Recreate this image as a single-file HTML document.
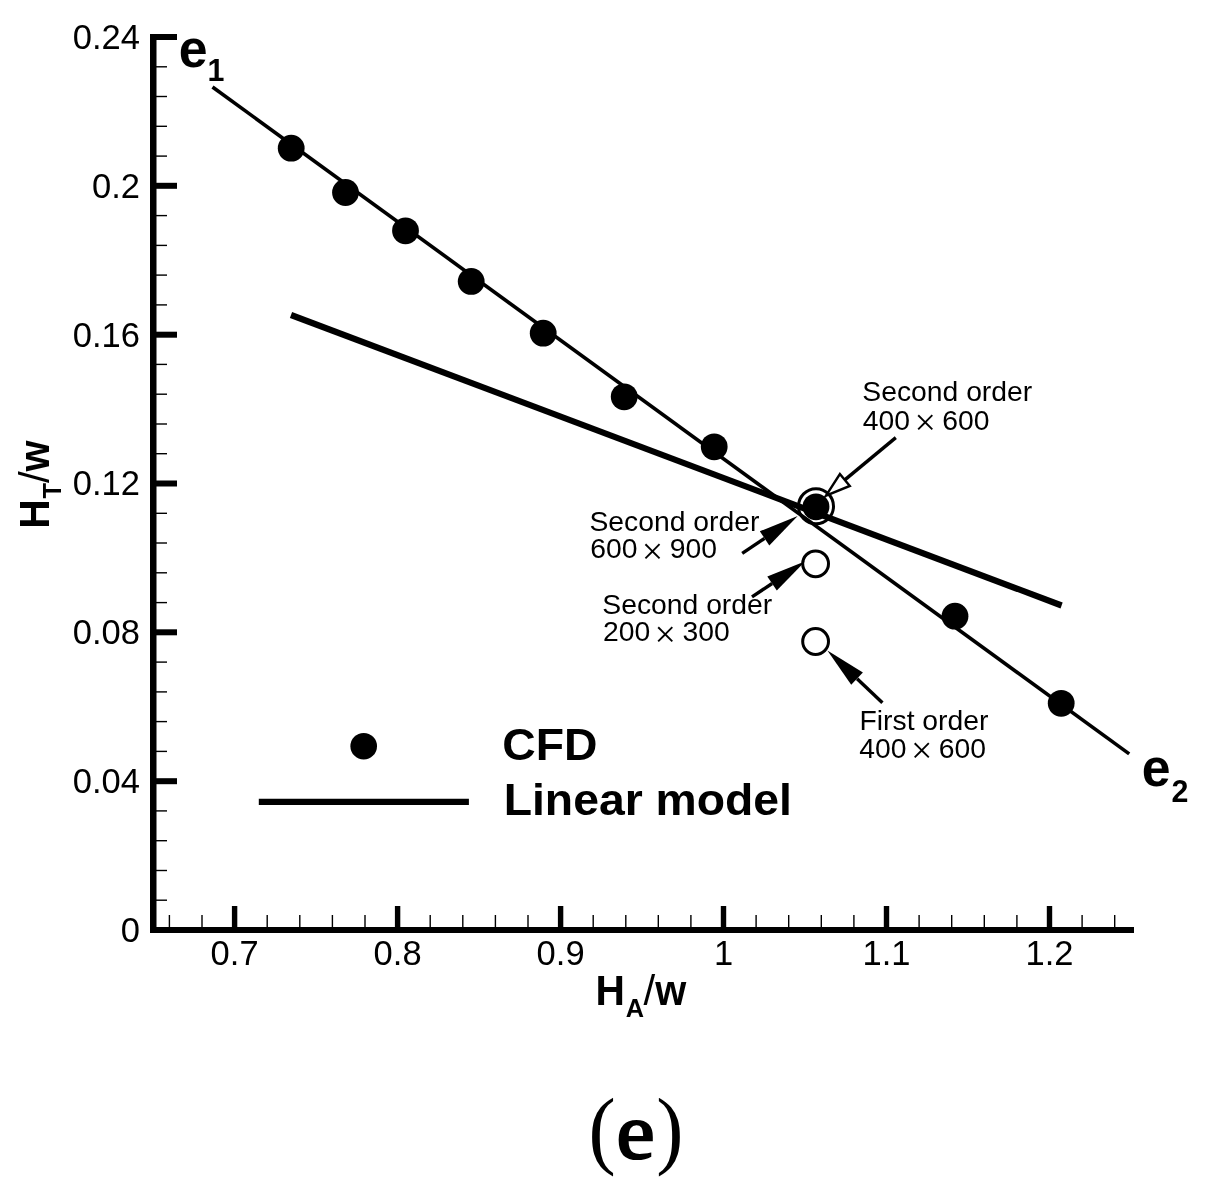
<!DOCTYPE html>
<html lang="en"><head><meta charset="utf-8"><title>Figure (e)</title>
<style>html,body{margin:0;padding:0;background:#fff;}body{width:1214px;height:1201px;overflow:hidden;}svg{display:block;}svg{font-family:"Liberation Sans",Arial,Helvetica,sans-serif;fill:#000;}.b{font-weight:bold;}.s{font-family:"Liberation Serif","Times New Roman",serif;}</style>
</head><body>
<svg width="1214" height="1201" viewBox="0 0 1214 1201">
<rect x="0" y="0" width="1214" height="1201" fill="#fff"/>
<g fill="#000">
<rect x="150" y="34" width="6.5" height="899"/>
<rect x="150" y="927" width="984" height="6"/>
<rect x="153" y="927.0" width="24" height="6"/>
<rect x="153" y="778.2" width="24" height="6"/>
<rect x="153" y="629.3" width="24" height="6"/>
<rect x="153" y="480.5" width="24" height="6"/>
<rect x="153" y="331.7" width="24" height="6"/>
<rect x="153" y="182.8" width="24" height="6"/>
<rect x="153" y="34.0" width="24" height="6"/>
<rect x="153" y="899.5" width="14" height="1.4"/>
<rect x="153" y="869.8" width="14" height="1.4"/>
<rect x="153" y="840.0" width="14" height="1.4"/>
<rect x="153" y="810.2" width="14" height="1.4"/>
<rect x="153" y="750.7" width="14" height="1.4"/>
<rect x="153" y="720.9" width="14" height="1.4"/>
<rect x="153" y="691.2" width="14" height="1.4"/>
<rect x="153" y="661.4" width="14" height="1.4"/>
<rect x="153" y="601.9" width="14" height="1.4"/>
<rect x="153" y="572.1" width="14" height="1.4"/>
<rect x="153" y="542.3" width="14" height="1.4"/>
<rect x="153" y="512.6" width="14" height="1.4"/>
<rect x="153" y="453.0" width="14" height="1.4"/>
<rect x="153" y="423.3" width="14" height="1.4"/>
<rect x="153" y="393.5" width="14" height="1.4"/>
<rect x="153" y="363.7" width="14" height="1.4"/>
<rect x="153" y="304.2" width="14" height="1.4"/>
<rect x="153" y="274.4" width="14" height="1.4"/>
<rect x="153" y="244.7" width="14" height="1.4"/>
<rect x="153" y="214.9" width="14" height="1.4"/>
<rect x="153" y="155.4" width="14" height="1.4"/>
<rect x="153" y="125.6" width="14" height="1.4"/>
<rect x="153" y="95.8" width="14" height="1.4"/>
<rect x="153" y="66.1" width="14" height="1.4"/>
<rect x="231.9" y="906" width="5.4" height="24"/>
<rect x="394.9" y="906" width="5.4" height="24"/>
<rect x="557.9" y="906" width="5.4" height="24"/>
<rect x="720.8" y="906" width="5.4" height="24"/>
<rect x="883.8" y="906" width="5.4" height="24"/>
<rect x="1046.8" y="906" width="5.4" height="24"/>
<rect x="168.7" y="915" width="1.4" height="15"/>
<rect x="201.3" y="915" width="1.4" height="15"/>
<rect x="266.5" y="915" width="1.4" height="15"/>
<rect x="299.1" y="915" width="1.4" height="15"/>
<rect x="331.7" y="915" width="1.4" height="15"/>
<rect x="364.3" y="915" width="1.4" height="15"/>
<rect x="429.5" y="915" width="1.4" height="15"/>
<rect x="462.1" y="915" width="1.4" height="15"/>
<rect x="494.7" y="915" width="1.4" height="15"/>
<rect x="527.3" y="915" width="1.4" height="15"/>
<rect x="592.5" y="915" width="1.4" height="15"/>
<rect x="625.1" y="915" width="1.4" height="15"/>
<rect x="657.6" y="915" width="1.4" height="15"/>
<rect x="690.2" y="915" width="1.4" height="15"/>
<rect x="755.4" y="915" width="1.4" height="15"/>
<rect x="788.0" y="915" width="1.4" height="15"/>
<rect x="820.6" y="915" width="1.4" height="15"/>
<rect x="853.2" y="915" width="1.4" height="15"/>
<rect x="918.4" y="915" width="1.4" height="15"/>
<rect x="951.0" y="915" width="1.4" height="15"/>
<rect x="983.6" y="915" width="1.4" height="15"/>
<rect x="1016.2" y="915" width="1.4" height="15"/>
<rect x="1081.4" y="915" width="1.4" height="15"/>
<rect x="1114.0" y="915" width="1.4" height="15"/>
</g>
<g font-size="34.5">
<text x="140" y="941.9" text-anchor="end">0</text>
<text x="140" y="793.1" text-anchor="end">0.04</text>
<text x="140" y="644.2" text-anchor="end">0.08</text>
<text x="140" y="495.4" text-anchor="end">0.12</text>
<text x="140" y="346.6" text-anchor="end">0.16</text>
<text x="140" y="197.7" text-anchor="end">0.2</text>
<text x="140" y="48.9" text-anchor="end">0.24</text>
<text x="234.6" y="964.8" text-anchor="middle">0.7</text>
<text x="397.6" y="964.8" text-anchor="middle">0.8</text>
<text x="560.6" y="964.8" text-anchor="middle">0.9</text>
<text x="723.5" y="964.8" text-anchor="middle">1</text>
<text x="886.5" y="964.8" text-anchor="middle">1.1</text>
<text x="1049.5" y="964.8" text-anchor="middle">1.2</text>
</g>
<line x1="212.5" y1="87" x2="1129.2" y2="753.9" stroke="#000" stroke-width="3.6"/>
<line x1="291" y1="315" x2="1061.6" y2="605.5" stroke="#000" stroke-width="6.2"/>
<circle cx="291.2" cy="148.2" r="13.4"/>
<circle cx="345.5" cy="192.5" r="13.4"/>
<circle cx="405.5" cy="230.8" r="13.4"/>
<circle cx="471.2" cy="281.4" r="13.4"/>
<circle cx="543.2" cy="333.2" r="13.4"/>
<circle cx="624.2" cy="396.8" r="13.4"/>
<circle cx="714.2" cy="446.8" r="13.4"/>
<circle cx="816.0" cy="506.8" r="13.4"/>
<circle cx="955.0" cy="616.2" r="13.4"/>
<circle cx="1061.2" cy="703.3" r="13.4"/>
<circle cx="816" cy="506.3" r="17.5" fill="none" stroke="#000" stroke-width="3"/>
<circle cx="815.6" cy="563.8" r="12.9" fill="#fff" stroke="#000" stroke-width="3"/>
<circle cx="815.6" cy="641.5" r="12.9" fill="#fff" stroke="#000" stroke-width="3"/>
<line x1="895.8" y1="437.6" x2="844.8" y2="479.9" stroke="#000" stroke-width="3.4"/>
<polygon points="826.0,495.6 839.9,474.0 849.8,485.9" fill="none" stroke="#000" stroke-width="2.4" stroke-linejoin="miter"/>
<line x1="742.2" y1="553.4" x2="764.5" y2="538.4" stroke="#000" stroke-width="3.4"/>
<polygon points="797.7,516.0 769.3,545.4 759.8,531.3" fill="#000"/>
<line x1="752.0" y1="596.9" x2="772.1" y2="583.5" stroke="#000" stroke-width="3.4"/>
<polygon points="805.3,561.2 776.8,590.5 767.3,576.4" fill="#000"/>
<line x1="882.4" y1="702.8" x2="857.1" y2="678.7" stroke="#000" stroke-width="3.4"/>
<polygon points="827.4,650.4 862.9,672.5 851.2,684.8" fill="#000"/>
<g font-size="28.3">
<text x="862.3" y="401.3">Second order</text>
<text x="862.8" y="429.8">400 <tspan font-family="Liberation Serif,Times New Roman,serif" font-size="38" dx="-3.5" dy="5.6">×</tspan><tspan dx="-1.4" dy="-5.6"> 600</tspan></text>
<text x="589.5" y="530.5">Second order</text>
<text x="590.2" y="558.2">600 <tspan font-family="Liberation Serif,Times New Roman,serif" font-size="38" dx="-3.5" dy="5.6">×</tspan><tspan dx="-1.4" dy="-5.6"> 900</tspan></text>
<text x="602.3" y="613.6">Second order</text>
<text x="603.0" y="641.2">200 <tspan font-family="Liberation Serif,Times New Roman,serif" font-size="38" dx="-3.5" dy="5.6">×</tspan><tspan dx="-1.4" dy="-5.6"> 300</tspan></text>
<text x="859.5" y="729.5">First order</text>
<text x="859.3" y="757.8">400 <tspan font-family="Liberation Serif,Times New Roman,serif" font-size="38" dx="-3.5" dy="5.6">×</tspan><tspan dx="-1.4" dy="-5.6"> 600</tspan></text>
</g>
<circle cx="363.7" cy="746.2" r="13.3"/>
<line x1="258.8" y1="801.8" x2="468.9" y2="801.8" stroke="#000" stroke-width="6.3"/>
<g class="b">
<text transform="translate(502.3 759.6) scale(1.025 1)" font-size="45.2">CFD</text>
<text transform="translate(503.7 814.7) scale(1.025 1)" font-size="45.2">Linear model</text>
<text transform="translate(178.8 67.0) scale(0.960 1)" font-size="54.0">e</text>
<text transform="translate(207.6 81.0) scale(0.950 1)" font-size="32.0">1</text>
<text transform="translate(1141.8 786.3) scale(0.960 1)" font-size="54.0">e</text>
<text transform="translate(1171.6 801.8) scale(0.950 1)" font-size="32.0">2</text>
<text transform="translate(595.4 1005.1) scale(0.970 1)" font-size="42.0">H</text>
<text transform="translate(625.7 1016.6) scale(1.000 1)" font-size="25.3">A</text>
<text transform="translate(643.6 1005.1) scale(1.000 1)" font-size="42.0" font-weight="normal">/</text>
<text transform="translate(655.2 1005.1) scale(0.950 1)" font-size="42.0">w</text>
</g>
<g class="b" transform="translate(49,528.8) rotate(-90)">
<text transform="translate(0.0 0.0) scale(0.970 1)" font-size="42.0">H</text>
<text transform="translate(30.3 11.9) scale(1.000 1)" font-size="25.3">T</text>
<text transform="translate(45.9 0.0) scale(1.000 1)" font-size="42.0" font-weight="normal">/</text>
<text transform="translate(57.2 0.0) scale(0.950 1)" font-size="42.0">w</text>
</g>
<g class="s">
<text transform="translate(588.6 1158.1) scale(0.950 1)" font-size="86.0">(</text>
<text transform="translate(616.5 1157.7) scale(1.100 1)" font-size="78.0" stroke="#000" stroke-width="2.2" stroke-linejoin="miter">e</text>
<text transform="translate(656.3 1158.1) scale(0.950 1)" font-size="86.0">)</text>
</g>
</svg></body></html>
